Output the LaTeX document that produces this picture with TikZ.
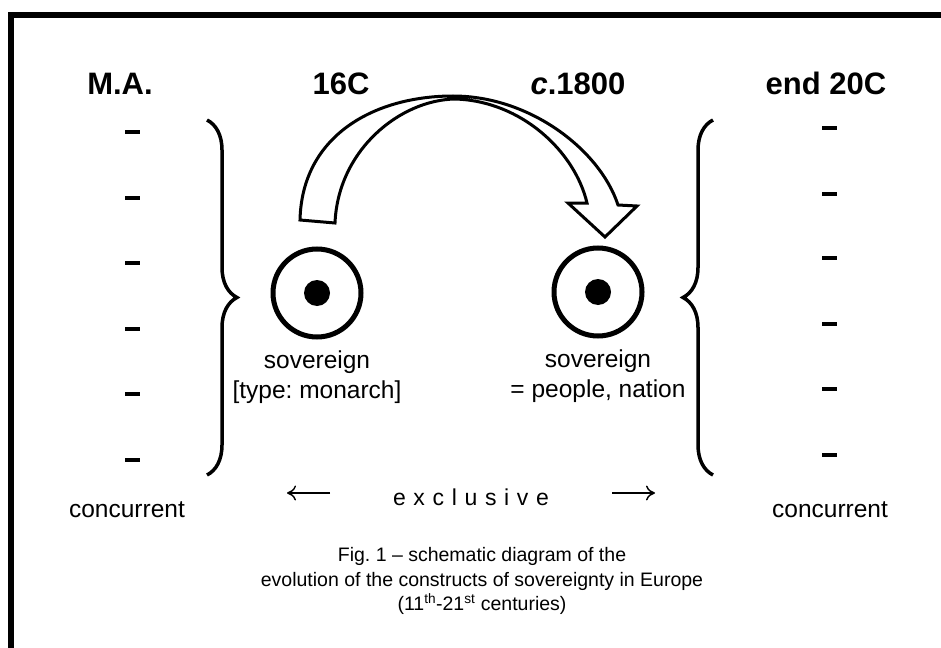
\documentclass[tikz,border=0pt]{standalone}
\usepackage{fontspec}
\setmainfont{Liberation Sans}
\frenchspacing
\usetikzlibrary{calc}
\usetikzlibrary{positioning}
\usetikzlibrary{arrows.meta}
\usetikzlibrary{decorations.pathreplacing}
\tikzset{
	head/.style={font=\bfseries\fontsize{31}{31}\selectfont, anchor=base},
	lbl/.style={font=\fontsize{24.5}{30}\selectfont, align=center, inner sep=0pt},
	tickmark/.style={line width=4pt},
	sov/.style={circle, draw, line width=5pt, minimum size=88pt, inner sep=0pt},
	core/.style={circle, fill, minimum size=26pt, inner sep=0pt},
	curly/.style={decorate, decoration={brace, amplitude=30pt, aspect=0.5}, line width=3.5pt},
	hollow/.style={draw, fill=white, line width=3pt, line join=miter},
	thinarr/.style={line width=1.4pt, -{To[length=9pt,width=15pt]}},
}

\begin{document}
\begin{tikzpicture}[x=1pt, y=-1pt]
		\useasboundingbox (0,0) rectangle (941,647);
		\clip (0,0) rectangle (941,647);
		% frame, cut off on the right and at the bottom
		\draw[line width=6pt] (11,680) -- (11,15) -- (960,15);
		\node[head] (ma) at (120,95) {M.A.};
		\node[head] (c16) at (341,95) {16C};
		\node[head] (c1800) at (578,95) {\textit{c}.1800};
		\node[head] (e20) at (826,95) {end 20C};
		\foreach \y in {132,198,263,329,394,460} \draw[tickmark] (125,\y) -- (140,\y);
		\foreach \y in {128,194,258,324,389,455} \draw[tickmark] (822,\y) -- (837,\y);
		\draw[curly] (207,120) -- (207,475);
		\draw[curly] (713,475) -- (713,120);
		\node[sov] (rul) at (317,293) {};
		\node[core] (rulc) at (rul) {};
		\node[sov] (peo) at (598,292) {};
		\node[core] (peoc) at (peo) {};
		\node[lbl, below=11pt of rul] (rullbl) {sovereign\\{[type: monarch]}};
		\node[lbl, below=11pt of peo] (peolbl) {sovereign\\= people, nation};
		% the big hollow arrow
		\draw[hollow] (300,220) .. controls (302,135) and (375,96) .. (453,96)
			.. controls (530,96) and (600,150) .. (618,205) -- (637,206) -- (605,237) -- (568,203) -- (587,203)
			.. controls (575,152) and (522,101) .. (455,99)
			.. controls (400,100) and (338,150) .. (335,223) -- cycle;
		\node[lbl, anchor=base] (conl) at (127,517) {concurrent};
		\node[lbl, anchor=base] (conr) at (830,517) {concurrent};
		\node[font=\fontsize{23}{23}\selectfont, anchor=base, inner sep=0pt] (excl) at (471,505) {e\,\,x\,\,c\,\,l\,\,u\,\,s\,\,i\,\,v\,\,e};
		\coordinate (la0) at (330,493);
		\coordinate (la) at (287,493);
		\coordinate (ra0) at (612,493);
		\coordinate (ra) at (655,493);
		\draw[thinarr] (la0) -- (la);
		\draw[thinarr] (ra0) -- (ra);
		\node[font=\fontsize{19.5}{24.5}\selectfont, align=center] (cap) at (482,581)
			{Fig. 1 \textendash{} schematic diagram of the\\evolution of the constructs of sovereignty in Europe\\(11\textsuperscript{th}-21\textsuperscript{st} centuries)};
	\end{tikzpicture}
\end{document}
